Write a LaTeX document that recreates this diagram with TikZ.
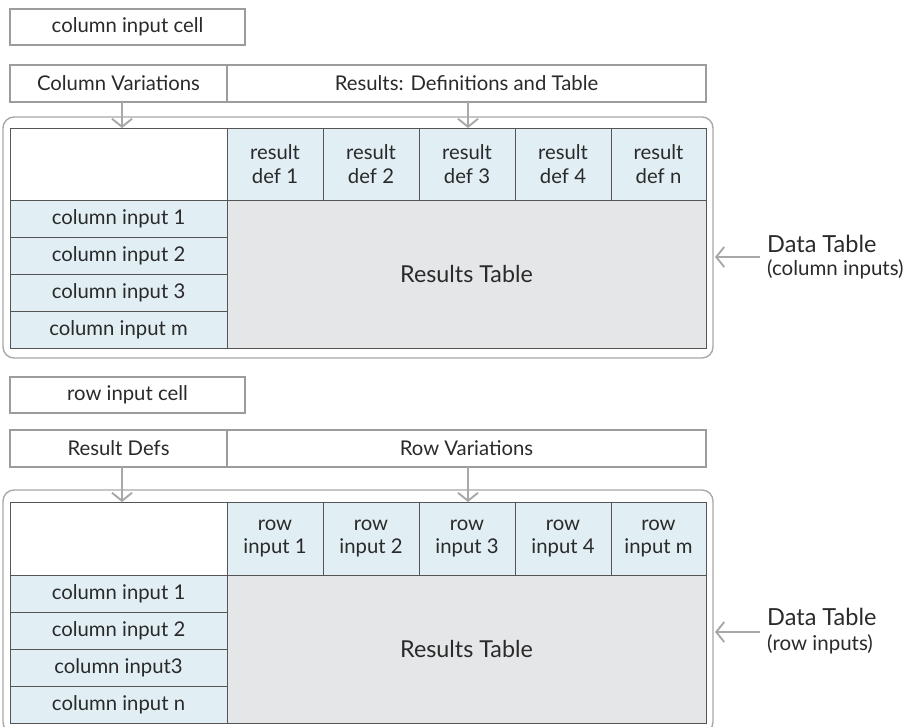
\documentclass[tikz,border=0pt]{standalone}
\usepackage{fontspec}
\setmainfont{Lato}
\usetikzlibrary{arrows.meta}

\definecolor{gridline}{HTML}{555555}
\definecolor{boxline}{HTML}{9C9C9C}
\definecolor{arrowgray}{HTML}{A8A8A8}
\definecolor{inblue}{HTML}{E1EFF5}
\definecolor{resgray}{HTML}{E5E6E8}
\definecolor{txt}{HTML}{2A2A2A}

\tikzset{
  x=1pt, y=-1pt,
  base text/.style={text=txt, font=\fontsize{20.3}{23.5}\selectfont},
  labelbox/.style={base text, draw=boxline, line width=1.3pt, fill=white,
    inner sep=0pt, outer sep=0pt, anchor=north west, align=center},
  cellbox/.style={base text, draw=gridline, line width=1pt,
    inner sep=0pt, outer sep=0pt, anchor=north west, align=center},
  blankcell/.style={cellbox, fill=white},
  inputcell/.style={cellbox, fill=inblue},
  resultcell/.style={cellbox, fill=resgray, font=\fontsize{23.3}{27}\selectfont},
  container/.style={draw=arrowgray, line width=1.4pt, rounded corners=11pt,
    inner sep=0pt, outer sep=0pt, anchor=north west},
  flow/.style={draw=arrowgray, line width=1.9pt,
    -{Straight Barb[length=8pt, width=20pt, line width=1.9pt]}},
  sidelabel/.style={text=txt, anchor=base west, inner sep=0pt},
}

\begin{document}
\begin{tikzpicture}
\useasboundingbox (0,0) rectangle (907,726);
\clip (0,0) rectangle (907,726);

% ---------------- column-input data table ----------------
\node[labelbox, minimum width=235, minimum height=36] (cic) at (10,9) {column input cell};
\node[labelbox, minimum width=217, minimum height=37] (cvar) at (10,65) {Column Variations};
\node[labelbox, minimum width=479, minimum height=37] (rdt) at (227,65) {Results: Definitions and Table};

\node[container, minimum width=710, minimum height=241] (boxA) at (3,117) {};

\node[blankcell, minimum width=217, minimum height=72] (a00) at (10,128) {};
\node[inputcell, minimum width=96, minimum height=72] (ar1) at (227,128) {result\\def 1};
\node[inputcell, minimum width=96, minimum height=72] (ar2) at (323,128) {result\\def 2};
\node[inputcell, minimum width=96, minimum height=72] (ar3) at (419,128) {result\\def 3};
\node[inputcell, minimum width=96, minimum height=72] (ar4) at (515,128) {result\\def 4};
\node[inputcell, minimum width=95, minimum height=72] (arn) at (611,128) {result\\def n};

\node[inputcell, minimum width=217, minimum height=37] (ac1) at (10,200) {column input 1};
\node[inputcell, minimum width=217, minimum height=37] (ac2) at (10,237) {column input 2};
\node[inputcell, minimum width=217, minimum height=37] (ac3) at (10,274) {column input 3};
\node[inputcell, minimum width=217, minimum height=37] (acm) at (10,311) {column input m};
\node[resultcell, minimum width=479, minimum height=148] (ares) at (227,200) {Results Table};

\draw[flow] (cvar.south -| 122,0) -- (a00.north -| 122,0);
\draw[flow] (rdt.south -| 468,0) -- (a00.north -| 468,0);

\coordinate (dtAfrom) at (760,257);
\draw[flow] (dtAfrom) -- ([xshift=2pt]boxA.east |- dtAfrom);
\node[sidelabel, font=\fontsize{23.5}{27}\selectfont] (dtA) at (767,252) {Data Table};
\node[sidelabel, font=\fontsize{20.5}{24}\selectfont] (dtAsub) at (767,275) {(column inputs)};

% ---------------- row-input data table ----------------
\node[labelbox, minimum width=235, minimum height=36] (ric) at (10,377) {row input cell};
\node[labelbox, minimum width=217, minimum height=37] (rdefs) at (10,430) {Result Defs};
\node[labelbox, minimum width=479, minimum height=37] (rvar) at (227,430) {Row Variations};

\node[container, minimum width=710, minimum height=243] (boxB) at (3,490) {};

\node[blankcell, minimum width=217, minimum height=73] (b00) at (10,502) {};
\node[inputcell, minimum width=96, minimum height=73] (br1) at (227,502) {row\\input 1};
\node[inputcell, minimum width=96, minimum height=73] (br2) at (323,502) {row\\input 2};
\node[inputcell, minimum width=96, minimum height=73] (br3) at (419,502) {row\\input 3};
\node[inputcell, minimum width=96, minimum height=73] (br4) at (515,502) {row\\input 4};
\node[inputcell, minimum width=95, minimum height=73] (brm) at (611,502) {row\\input m};

\node[inputcell, minimum width=217, minimum height=37] (bc1) at (10,575) {column input 1};
\node[inputcell, minimum width=217, minimum height=37] (bc2) at (10,612) {column input 2};
\node[inputcell, minimum width=217, minimum height=37] (bc3) at (10,649) {column input3};
\node[inputcell, minimum width=217, minimum height=37] (bcn) at (10,686) {column input n};
\node[resultcell, minimum width=479, minimum height=148] (bres) at (227,575) {Results Table};

\draw[flow] (rdefs.south -| 122,0) -- (b00.north -| 122,0);
\draw[flow] (rvar.south -| 468,0) -- (b00.north -| 468,0);

\coordinate (dtBfrom) at (760,632);
\draw[flow] (dtBfrom) -- ([xshift=2pt]boxB.east |- dtBfrom);
\node[sidelabel, font=\fontsize{23.5}{27}\selectfont] (dtB) at (767,625) {Data Table};
\node[sidelabel, font=\fontsize{20.5}{24}\selectfont] (dtBsub) at (767,650) {(row inputs)};
\end{tikzpicture}
\end{document}
